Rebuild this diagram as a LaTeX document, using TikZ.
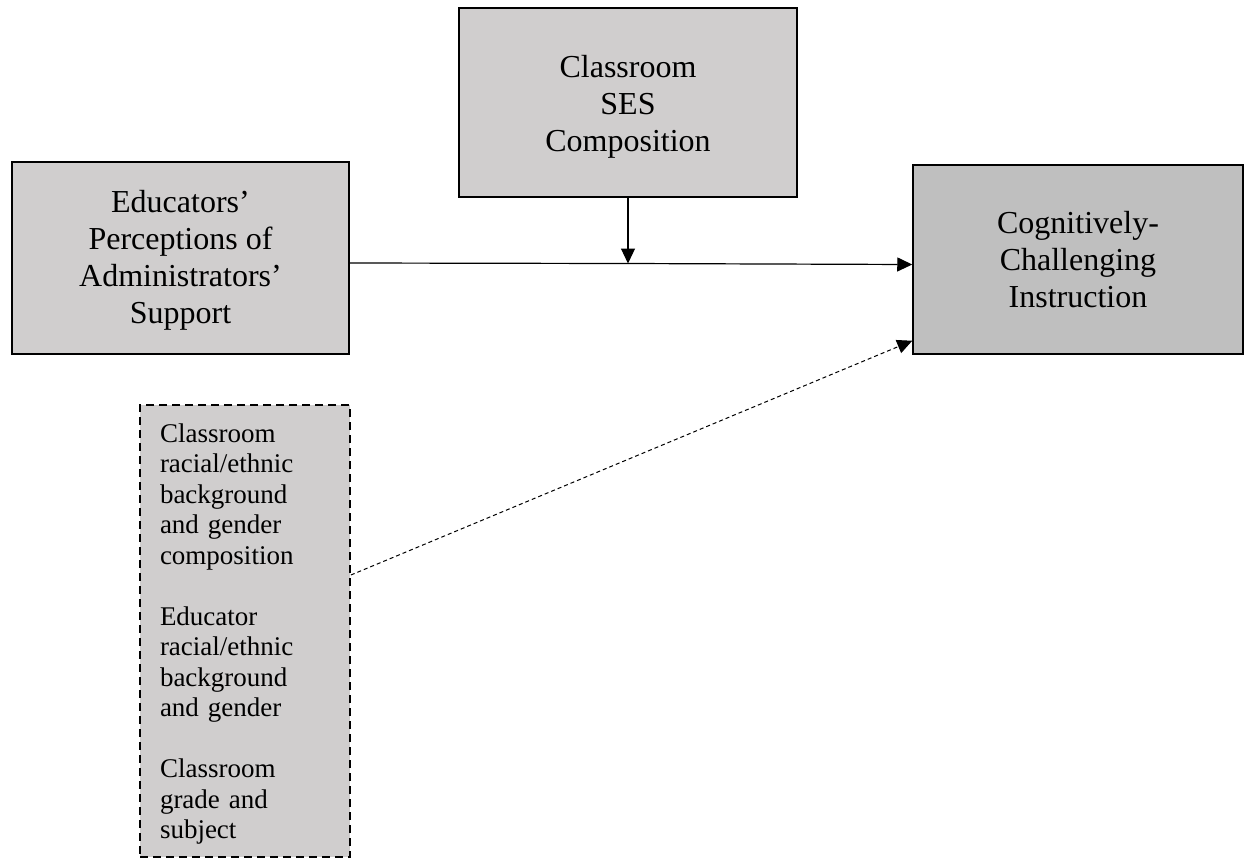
\documentclass[tikz,border=0pt]{standalone}
\usepackage{fontspec}
\setmainfont{Liberation Serif}
\usetikzlibrary{arrows.meta}
\definecolor{boxgray}{HTML}{D0CECE}
\definecolor{darkgray2}{HTML}{BFBFBF}
\tikzset{
  mainbox/.style={draw=black, line width=1.5pt, fill=boxgray, inner sep=0pt},
  maintext/.style={align=center, font=\fontsize{32}{37}\selectfont, inner sep=0pt},
  ctrlbox/.style={draw=black, line width=1.8pt, dash pattern=on 8pt off 5pt, fill=boxgray, inner sep=0pt},
  ctrltext/.style={align=left, font=\fontsize{27}{30.5}\selectfont, inner sep=0pt, text width=170pt},
  solidarrow/.style={line width=1.2pt, -{Triangle[length=15pt,width=14pt]}},
  dasharrow/.style={line width=1pt, dash pattern=on 4pt off 3pt, -{Triangle[length=15pt,width=14pt]}}
}
\begin{document}
\begin{tikzpicture}[x=1pt,y=-1pt]
\useasboundingbox (0,0) rectangle (1254,863);
\node[mainbox, minimum width=337pt, minimum height=192pt] (A) at (180.5,258) {};
\node[maintext] (At) at ([yshift=-2pt]A.center) {Educators’\\Perceptions of\\Administrators’\\Support};
\node[mainbox, minimum width=338pt, minimum height=189pt] (B) at (628,102.5) {};
\node[maintext] (Bt) at ([yshift=-4pt]B.center) {Classroom\\SES\\Composition};
\node[mainbox, fill=darkgray2, minimum width=330pt, minimum height=189pt] (C) at (1078,259.5) {};
\node[maintext] (Ct) at (C.center) {Cognitively-\\Challenging\\Instruction};
\node[ctrlbox, minimum width=210pt, minimum height=452pt] (D) at (245,631) {};
\node[ctrltext] (Dt) at ([yshift=-3pt]D.center)
  {Classroom\\racial/ethnic\\background\\and gender\\composition\\[30.5pt]
   Educator\\racial/ethnic\\background\\and gender\\[30.5pt]
   Classroom\\grade and\\subject};
\coordinate (j) at (628,263.5);
\draw[line width=1.2pt] ([yshift=-5pt]A.east) -- (j);
\draw[solidarrow] (j) -- ([yshift=-5pt]C.west);
\draw[solidarrow] (B.south) -- (j);
\draw[dasharrow] ([yshift=56pt]D.east) -- ([yshift=14pt]C.south west);
\end{tikzpicture}
\end{document}
